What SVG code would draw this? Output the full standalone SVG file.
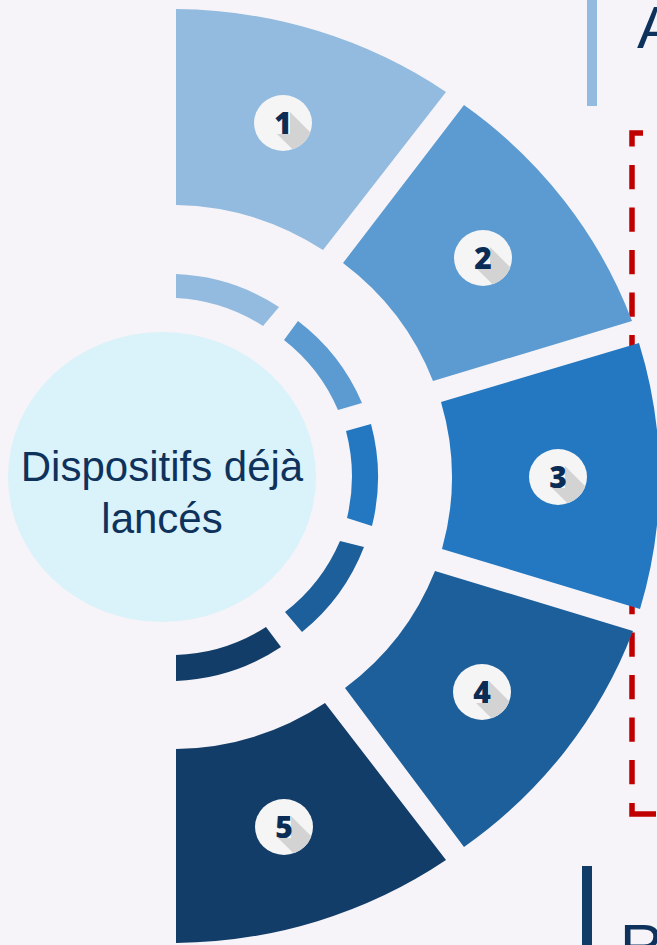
<svg xmlns="http://www.w3.org/2000/svg" width="657" height="945" viewBox="0 0 657 945">
<style>
.c1{fill:#92BBDF}.c2{fill:#5C9BD1}.c3{fill:#2378C1}.c4{fill:#1D5F9A}.c5{fill:#123D69}
.badge{fill:#F5F5F5}
.shadow{fill:#D3D3D3}
.num{font-family:"Open Sans","Liberation Sans",sans-serif;font-weight:800;font-size:30px;fill:#0B2D55;text-anchor:middle}
.label{font-family:"Liberation Sans",Arial,sans-serif;font-size:42px;fill:#0E325C;text-anchor:middle}
.big{font-family:"Liberation Sans",Arial,sans-serif;font-size:60px;fill:#0E325C}
.red{fill:none;stroke:#C00000;stroke-width:5.5}
</style>
<defs>
<clipPath id="bc" clipPathUnits="userSpaceOnUse"><ellipse cx="0" cy="0" rx="29" ry="28"/></clipPath>
<g id="badge">
<ellipse class="badge" cx="0" cy="0" rx="29" ry="28"/>
<polygon class="shadow" clip-path="url(#bc)" points="7,-11 57,39 45,61 -6,11 7,11"/>
</g>
</defs>
<rect width="657" height="945" fill="#F6F4F8"/>

<g id="header-a">
<rect class="c1" x="587" y="0" width="10" height="106"/>
<text class="big" x="637" y="48">A</text>
</g>
<g id="header-b">
<rect x="582" y="866" width="10" height="79" fill="#113C67"/>
<text class="big" x="620" y="966">R</text>
</g>

<g id="frame">
<path class="red" d="M643,133 H632 V146.5"/>
<path class="red" d="M632,165 V785" stroke-dasharray="24.3 18.2"/>
<path class="red" d="M632,803 V814 H656"/>
</g>

<g id="seg1">
<path class="c1" d="M176,9 A482,467 0 0 1 446,92 L323,250 A276,271 0 0 0 176,205 Z"/>
<use href="#badge" transform="translate(283,123)"/>
<text class="num" x="283" y="134">1</text>
</g>
<g id="seg2">
<path class="c2" d="M464,105 A482,467 0 0 1 632,321 L433,381 A276,271 0 0 0 343,263 Z"/>
<use href="#badge" transform="translate(483,258)"/>
<text class="num" x="483" y="269">2</text>
</g>
<g id="seg3">
<path class="c3" d="M639,343 A482,467 0 0 1 640,609 L442,549 A276,271 0 0 0 441,402 Z"/>
<use href="#badge" transform="translate(558,477)"/>
<text class="num" x="558" y="488">3</text>
</g>
<g id="seg4">
<path class="c4" d="M633,631 A482,467 0 0 1 464,847 L345,688 A276,271 0 0 0 435,571 Z"/>
<use href="#badge" transform="translate(482,692)"/>
<text class="num" x="482" y="703">4</text>
</g>
<g id="seg5">
<path class="c5" d="M446,860 A482,467 0 0 1 176,943 L176,749 A276,271 0 0 0 325,703 Z"/>
<use href="#badge" transform="translate(284,827)"/>
<text class="num" x="284" y="838">5</text>
</g>

<g id="inner-ring">
<path class="c1" d="M176,274 A203,203 0 0 1 279,307 L263,326 A178,178 0 0 0 176,298 Z"/>
<path class="c2" d="M298,321 A203,203 0 0 1 362,403 L338,410 A178,178 0 0 0 284,340 Z"/>
<path class="c3" d="M371,424 A203,203 0 0 1 372,526 L347,518 A178,178 0 0 0 346,431 Z"/>
<path class="c4" d="M364,547 A203,203 0 0 1 302,632 L285,612 A178,178 0 0 0 340,541 Z"/>
<path class="c5" d="M281,647 A203,203 0 0 1 176,681 L176,655 A178,178 0 0 0 266,627 Z"/>
</g>

<g id="center">
<ellipse cx="162" cy="477" rx="154" ry="145" fill="#DAF2F9"/>
<text class="label" x="162" y="481">Dispositifs déjà</text>
<text class="label" x="162" y="533">lancés</text>
</g>
</svg>
